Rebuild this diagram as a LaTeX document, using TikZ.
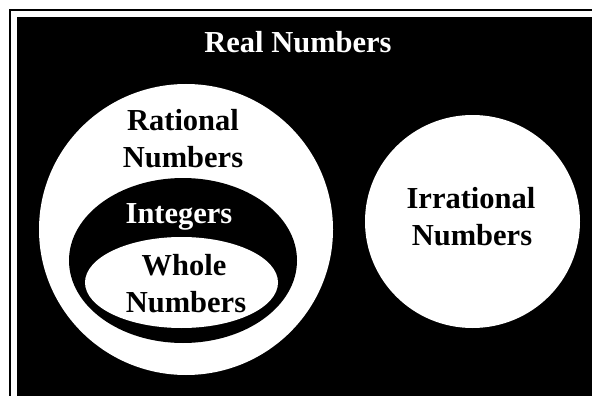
\documentclass[tikz,border=0pt]{standalone}
\usepackage{fontspec}
\setmainfont{Liberation Serif}
\usetikzlibrary{shapes.geometric}
\begin{document}
\begin{tikzpicture}[x=1pt,y=-1pt,
  setshape/.style={ellipse,inner sep=0pt,draw=none},
  lbl/.style={anchor=base,inner sep=0pt,font=\fontsize{30.5}{30.5}\selectfont\bfseries},
  wlbl/.style={lbl,text=white},
  blbl/.style={lbl,text=black}]
\useasboundingbox[fill=white] (0,0) rectangle (592,396);
\draw[line width=2pt] (10,10) rectangle (620,420);
\fill[black] (17,17) rectangle (615,415);
\node[setshape,fill=white,minimum width=294pt,minimum height=291pt] (rat) at (186,229.5) {};
\node[setshape,fill=black,minimum width=228pt,minimum height=165pt] (int) at (183,260.5) {};
\node[setshape,fill=white,minimum width=193pt,minimum height=91pt] (whole) at (181.5,282.5) {};
\node[setshape,fill=white,minimum width=215pt,minimum height=213pt] (irr) at (472.5,221.5) {};
\node[wlbl] (treal) at (298,53) {Real Numbers};
\node[blbl] (trat1) at (183,130) {Rational};
\node[blbl] (trat2) at (183,167) {Numbers};
\node[wlbl] (tint) at (179,223) {Integers};
\node[blbl] (twh1) at (184,275) {Whole};
\node[blbl] (twh2) at (186,312) {Numbers};
\node[blbl] (tirr1) at (471,208) {Irrational};
\node[blbl] (tirr2) at (472,245) {Numbers};
\end{tikzpicture}
\end{document}
